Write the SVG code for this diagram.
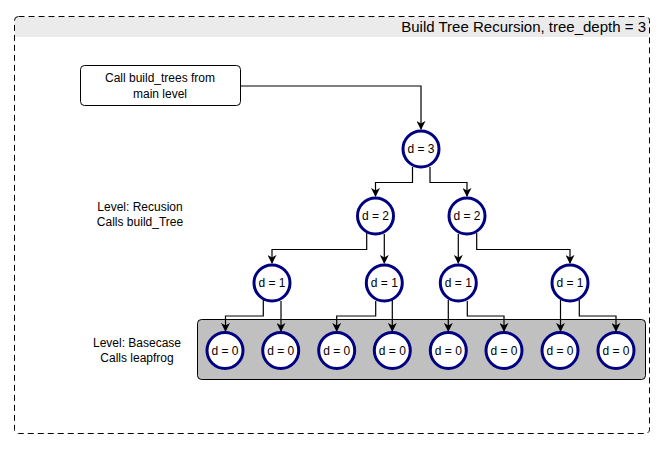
<svg xmlns="http://www.w3.org/2000/svg" width="666" height="451" viewBox="0 0 666 451">
<defs>
<marker id="arr" viewBox="0 0 10 10" refX="9" refY="5" markerWidth="9" markerHeight="9" markerUnits="userSpaceOnUse" orient="auto">
<path d="M0,0 L10,5 L0,10 L3,5 Z" fill="#000"/>
</marker>
</defs>
<style>
text{font-family:"Liberation Sans",Arial,sans-serif;font-size:12px;fill:#000}
.c{fill:#fff;stroke:#000080;stroke-width:3}
.e{fill:none;stroke:#000;stroke-width:1.2;marker-end:url(#arr)}
.t{text-anchor:middle;dominant-baseline:central}
</style>
<g id="container">
<rect x="14.5" y="16.5" width="635" height="417" rx="4" fill="#fff" stroke="none"/>
<path d="M15,37 V20 Q15,17 18,17 H646 Q649,17 649,20 V37 Z" fill="#ebebeb"/>
<rect x="14.5" y="16.5" width="635" height="417" rx="4" fill="none" stroke="#000" stroke-width="1" stroke-dasharray="6,4"/>
<text x="646" y="32" style="font-size:15px" text-anchor="end">Build Tree Recursion, tree_depth = 3</text>
</g>
<g id="basecase-box">
<rect x="197.5" y="319.5" width="448" height="60" rx="4" fill="#c0c0c0" stroke="#000" stroke-width="1"/>
</g>
<g id="start">
<rect x="80.5" y="65.5" width="160" height="40" rx="4" fill="#fff" stroke="#000" stroke-width="1"/>
<text x="160" y="78" class="t">Call build_trees from</text>
<text x="160" y="94" class="t">main level</text>
</g>
<g id="label-recursion">
<text x="140" y="207" class="t">Level: Recusion</text>
<text x="140" y="222" class="t">Calls build_Tree</text>
</g>
<g id="label-basecase">
<text x="137" y="343" class="t">Level: Basecase</text>
<text x="137" y="358" class="t">Calls leapfrog</text>
</g>
<g id="connectors">
<path class="e" d="M240.5,86 H421 V129"/>
<path class="e" d="M412.5,167 V182.5 H375.5 V196"/>
<path class="e" d="M430,167 V182.5 H467 V196"/>
<path class="e" d="M366.7,233 V249.5 H272 V263"/>
<path class="e" d="M384.3,234 V263"/>
<path class="e" d="M458.3,234 V263"/>
<path class="e" d="M476.7,233 V249.5 H570 V263"/>
<path class="e" d="M263.3,300 V316 H225.5 V331"/>
<path class="e" d="M281,301 V331"/>
<path class="e" d="M375.7,301 V316 H336.7 V331"/>
<path class="e" d="M392.3,300 V331"/>
<path class="e" d="M448.3,300 V331"/>
<path class="e" d="M467.3,301 V316 H504 V331"/>
<path class="e" d="M560.5,300 V331"/>
<path class="e" d="M579.3,300 V316 H616 V331"/>
</g>
<g id="n3"><circle class="c" cx="421" cy="149" r="18"/><text x="421" y="149" class="t">d = 3</text></g>
<g id="n2a"><circle class="c" cx="375.5" cy="216" r="18"/><text x="375.5" y="216" class="t">d = 2</text></g>
<g id="n2b"><circle class="c" cx="467" cy="216" r="18"/><text x="467" y="216" class="t">d = 2</text></g>
<g id="n1a"><circle class="c" cx="272" cy="283" r="18"/><text x="272" y="283" class="t">d = 1</text></g>
<g id="n1b"><circle class="c" cx="384.3" cy="283" r="18"/><text x="384.3" y="283" class="t">d = 1</text></g>
<g id="n1c"><circle class="c" cx="458.3" cy="283" r="18"/><text x="458.3" y="283" class="t">d = 1</text></g>
<g id="n1d"><circle class="c" cx="570" cy="283" r="18"/><text x="570" y="283" class="t">d = 1</text></g>
<g id="n0a"><circle class="c" cx="225" cy="350.5" r="18"/><text x="225" y="350.5" class="t">d = 0</text></g>
<g id="n0b"><circle class="c" cx="280.7" cy="350.5" r="18"/><text x="280.7" y="350.5" class="t">d = 0</text></g>
<g id="n0c"><circle class="c" cx="336.7" cy="350.5" r="18"/><text x="336.7" y="350.5" class="t">d = 0</text></g>
<g id="n0d"><circle class="c" cx="392.3" cy="350.5" r="18"/><text x="392.3" y="350.5" class="t">d = 0</text></g>
<g id="n0e"><circle class="c" cx="448.3" cy="350.5" r="18"/><text x="448.3" y="350.5" class="t">d = 0</text></g>
<g id="n0f"><circle class="c" cx="504" cy="350.5" r="18"/><text x="504" y="350.5" class="t">d = 0</text></g>
<g id="n0g"><circle class="c" cx="560" cy="350.5" r="18"/><text x="560" y="350.5" class="t">d = 0</text></g>
<g id="n0h"><circle class="c" cx="616" cy="350.5" r="18"/><text x="616" y="350.5" class="t">d = 0</text></g>
</svg>
